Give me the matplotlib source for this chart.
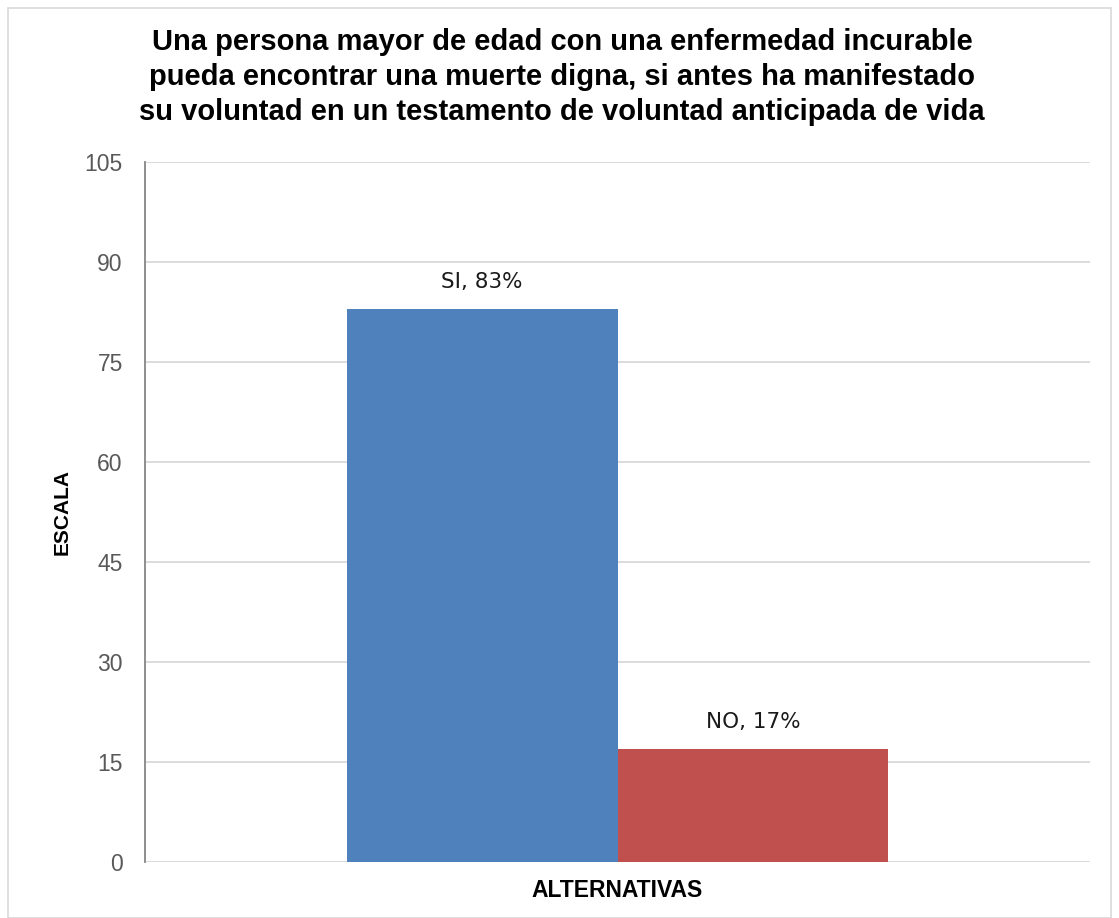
import matplotlib.pyplot as plt
from matplotlib.patches import Rectangle

# data
categories = ["SI", "NO"]
values = [83, 17]
colors = ["#4F81BD", "#C0504D"]
yticks = [0, 15, 30, 45, 60, 75, 90, 105]

title = ("Una persona mayor de edad con una enfermedad incurable\n"
         "pueda encontrar una muerte digna, si antes ha manifestado\n"
         "su voluntad en un testamento de voluntad anticipada de vida")

W, H = 1119, 918
fig = plt.figure(figsize=(W / 100, H / 100), dpi=100)
ax = fig.add_axes([145 / W, 1 - 862 / H, (1090 - 145) / W, (862 - 162) / H])

# outer chart border
fig.patches.append(Rectangle((8 / W, 0), (1111 - 8) / W, 1 - 8 / H,
                             transform=fig.transFigure, fill=False,
                             edgecolor="#D9D9D9", lw=1.2))

bw = 0.2865
offsets = [-bw / 2, bw / 2]
for cat, val, col, off in zip(categories, values, colors, offsets):
    ax.bar(off, val, width=bw, color=col, zorder=3)
    ax.annotate(f"{cat}, {val}%", (off, val), xytext=(0, 12),
                textcoords="offset points", ha="center", va="bottom",
                fontsize=15.5, family="Liberation Sans Narrow", color="#1a1a1a")

ax.set_xlim(-0.5, 0.5)
ax.set_ylim(0, 105)
ax.set_yticks(yticks)
ax.set_xticks([])
ax.grid(axis="y", color="#D9D9D9", lw=1.3, zorder=0)
for s in ["top", "right", "bottom"]:
    ax.spines[s].set_visible(False)
ax.spines["left"].set_color("#868686")
ax.spines["left"].set_linewidth(1.3)
ax.tick_params(axis="y", length=0, pad=16, labelsize=16.5, labelcolor="#595959")
for lab in ax.get_yticklabels():
    lab.set_family("Liberation Sans")

ax.set_xlabel("ALTERNATIVAS", fontsize=16.5, fontweight="bold",
              family="Liberation Sans", labelpad=12)
fig.text(62 / W, 1 - 512 / H, "ESCALA", rotation=90, ha="center", va="center",
         fontsize=15, fontweight="bold", family="Liberation Sans")

fig.text(562 / W, 1 - 77 / H, title, ha="center", va="center",
         fontsize=21, fontweight="bold", family="Liberation Sans",
         linespacing=1.3)

fig.savefig("out.png", dpi=100)
